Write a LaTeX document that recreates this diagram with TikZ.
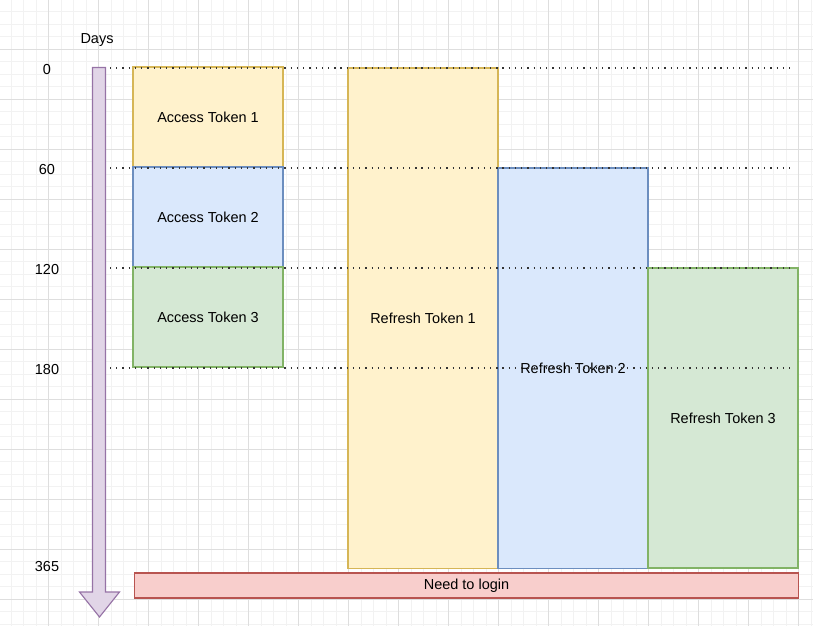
\documentclass[tikz,border=0pt]{standalone}
\usepackage{fontspec}
\setmainfont{Liberation Sans}
\usepackage{xcolor}
\usepackage{tikz}

\definecolor{amarillo}{HTML}{FFF2CC}
\definecolor{amarilloborde}{HTML}{D6B656}
\definecolor{azul}{HTML}{DAE8FC}
\definecolor{azulborde}{HTML}{6C8EBF}
\definecolor{verde}{HTML}{D5E8D4}
\definecolor{verdeborde}{HTML}{82B366}
\definecolor{rojo}{HTML}{F8CECC}
\definecolor{rojoborde}{HTML}{B85450}
\definecolor{lila}{HTML}{E1D5E7}
\definecolor{lilaborde}{HTML}{9673A6}
\definecolor{gridmenor}{HTML}{F2F2F2}
\definecolor{gridmayor}{HTML}{DEDEDE}

\begin{document}
\begin{tikzpicture}[x=0.025cm, y=-0.025cm, font=\fontsize{10.3}{12}\selectfont]
      % Definición de estilos
      \tikzstyle{token}=[draw, line width=0.8pt, inner sep=0pt, outer sep=0pt, minimum width=3.75cm]
      \tikzstyle{acceso}=[token, minimum height=2.5cm]
      \tikzstyle{guia}=[line width=0.8pt, black!80, dash pattern=on 0.9pt off 3.53pt]
      \tikzstyle{dia}=[inner sep=0pt]

      \useasboundingbox (0,0) rectangle (813,626);

      % Cuadricula de fondo
      \foreach \i in {0,...,65} \draw[gridmenor, line width=0.7pt] ({-1.5+12.5*\i},0) -- ++(0,626);
      \foreach \i in {0,...,50} \draw[gridmenor, line width=0.7pt] (0,{-0.7+12.5*\i}) -- ++(813,0);
      \foreach \i in {0,...,17} \draw[gridmayor, line width=0.7pt] ({-1.5+50*\i},0) -- ++(0,626);
      \foreach \i in {0,...,13} \draw[gridmayor, line width=0.7pt] (0,{-0.7+50*\i}) -- ++(813,0);

      % Eje de dias
      \node[dia] (days) at (97,40.5) {Days};
      \draw[fill=lila, draw=lilaborde, line width=0.8pt, line join=miter]
        (92.5,67.5) -- (105.5,67.5) -- (105.5,592) -- (119.5,592) -- (99.5,617)
        -- (79.5,592) -- (92.5,592) -- cycle;

      % Access tokens
      \node[acceso, fill=amarillo, draw=amarilloborde] (at1) at (208,117) {Access Token 1};
      \node[acceso, fill=azul, draw=azulborde] (at2) at (208,217) {Access Token 2};
      \node[acceso, fill=verde, draw=verdeborde] (at3) at (208,317) {Access Token 3};

      % Refresh tokens
      \node[token, minimum height=12.5cm, fill=amarillo, draw=amarilloborde] (rt1) at (423,318) {Refresh Token 1};
      \node[token, minimum height=10cm, fill=azul, draw=azulborde] (rt2) at (573,368) {Refresh Token 2};
      \node[token, minimum height=7.5cm, fill=verde, draw=verdeborde] (rt3) at (723,418) {Refresh Token 3};

      % Login
      \node[token, minimum width=16.575cm, minimum height=0.625cm, fill=rojo, draw=rojoborde] (login) at (466.5,585.5) {Need to login};

      % Marcas de dias y lineas guia
      \foreach \d/\y in {0/68, 60/168, 120/268, 180/368} {
        \node[dia] (d\d) at (47,\y+1.5) {\d};
        \coordinate (ini\d) at (110,\y);
        \coordinate (fin\d) at (793,\y);
        \draw[guia] (ini\d) -- (fin\d);
      }
      \node[dia] (d365) at (47,567) {365};
    \end{tikzpicture}
\end{document}
